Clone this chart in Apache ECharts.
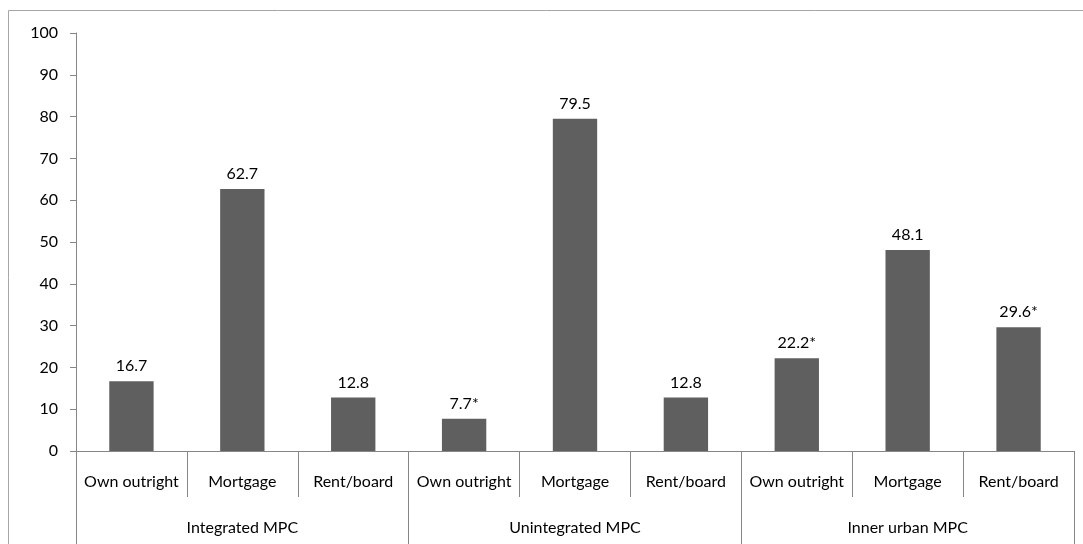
<!DOCTYPE html>
<html>
<head>
<meta charset="utf-8">
<script src="https://cdn.jsdelivr.net/npm/echarts@6/dist/echarts.min.js"></script>
<style>html,body{margin:0;padding:0;background:#fff}#c{width:1083px;height:544px}</style>
</head>
<body>
<div id="c"></div>
<script>
var subCategories = ['Own outright','Mortgage','Rent/board','Own outright','Mortgage','Rent/board','Own outright','Mortgage','Rent/board'];
var groups = ['Integrated MPC','Unintegrated MPC','Inner urban MPC'];
var values = [16.7, 62.7, 12.8, 7.7, 79.5, 12.8, 22.2, 48.1, 29.6];
var valueLabels = ['16.7','62.7','12.8','7.7*','79.5','12.8','22.2*','48.1','29.6*'];
var yTicks = [0,10,20,30,40,50,60,70,80,90,100];

var FONT = 'Lato';
var FS = 16;
var chart = echarts.init(document.getElementById('c'), null, {renderer:'canvas'});
chart.setOption({
  animation: false,
  backgroundColor: '#fff',
  graphic: [{
    type: 'rect', shape: {x: 8.5, y: 10.5, width: 1100, height: 600},
    style: {fill: 'none', stroke: '#a6a6a6', lineWidth: 1}, silent: true, z: -1
  }],
  grid: {left: 76, right: 9, top: 33, bottom: 93, containLabel: false},
  xAxis: [{
    type: 'category', data: subCategories, position: 'bottom',
    axisLine: {lineStyle: {color: '#868686', width: 1}},
    axisTick: {show: true, interval: 0, length: 46, lineStyle: {color: '#868686'}},
    axisLabel: {interval: 0, margin: 23, color: '#000', fontFamily: FONT, fontSize: FS}
  }, {
    type: 'category', data: groups, position: 'bottom',
    axisLine: {show: false},
    axisTick: {show: true, interval: 0, length: 120, lineStyle: {color: '#868686'}},
    axisLabel: {interval: 0, margin: 69, color: '#000', fontFamily: FONT, fontSize: FS}
  }],
  yAxis: {
    type: 'value', min: yTicks[0], max: yTicks[yTicks.length-1], interval: 10,
    axisLine: {show: true, lineStyle: {color: '#868686'}},
    axisTick: {show: true, length: 6, lineStyle: {color: '#868686'}},
    splitLine: {show: false},
    axisLabel: {margin: 18, color: '#000', fontFamily: FONT, fontSize: FS}
  },
  series: [{
    type: 'bar', xAxisIndex: 0, data: values, barCategoryGap: '60%',
    itemStyle: {color: '#5f5f5f'},
    label: {show: true, position: 'top', distance: 7, color: '#000', fontFamily: FONT, fontSize: FS,
      formatter: function(p){ return valueLabels[p.dataIndex]; }}
  }]
});
</script>
</body>
</html>
